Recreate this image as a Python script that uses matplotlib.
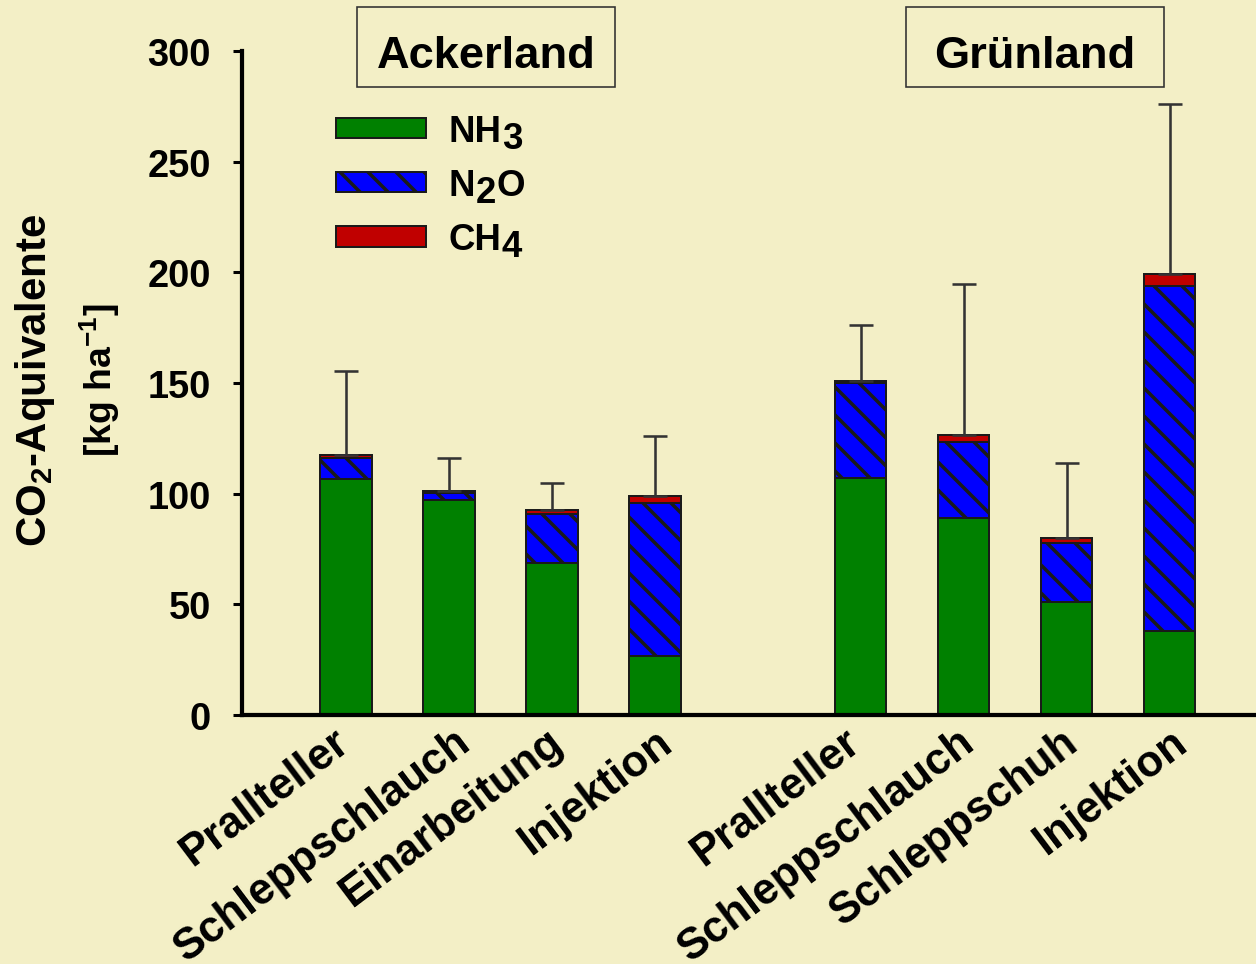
import numpy as np
import matplotlib
matplotlib.use("Agg")
import matplotlib.pyplot as plt
from matplotlib.patches import Patch, Rectangle
from matplotlib.transforms import ScaledTranslation

# values (kg CO2-eq per ha)
verfahren = ["Prallteller", "Schleppschlauch", "Einarbeitung", "Injektion",
             "Prallteller", "Schleppschlauch", "Schleppschuh", "Injektion"]
nh3 = [106.6, 97.2, 68.7, 26.7, 107.2, 88.9, 51.1, 38.0]
n2o = [9.5, 3.1, 22.1, 69.1, 42.8, 34.3, 26.5, 156.0]
ch4 = [1.4, 1.1, 2.0, 3.2, 0.9, 3.5, 2.5, 5.3]
err_up = [37.8, 14.7, 12.0, 26.9, 25.3, 67.9, 33.9, 76.8]
gruppen = ["Ackerland", "Grünland"]

# small horizontal nudges of the category labels, in pixels (the original is not exact)
label_shift = [-14, 5, -6, 0, -18, -6, -5, 0]

bg = "#f3efc6"
green, blue, red = "#008000", "#0000ff", "#c00000"
edge = "#1a1a1a"

plt.rcParams['font.family'] = ['Liberation Sans', 'DejaVu Sans']
plt.rcParams['font.weight'] = 'bold'
plt.rcParams['mathtext.default'] = 'regular'
plt.rcParams['hatch.linewidth'] = 1.5
plt.rcParams['hatch.color'] = edge

DPI = 168
fig = plt.figure(figsize=(1256 / DPI, 965 / DPI), dpi=DPI, facecolor=bg)
ax = fig.add_axes([242 / 1256, 249 / 965, 1 - 242 / 1256, 664 / 965])
ax.set_facecolor(bg)

pos = np.r_[0:4, 5:9]
nh3 = np.array(nh3)
n2o = np.array(n2o)
ch4 = np.array(ch4)
w = 0.5

ax.bar(pos, nh3, w, color=green, edgecolor=edge, linewidth=0.85)
ax.bar(pos, n2o, w, bottom=nh3, color=blue, edgecolor=edge, linewidth=0.85,
       hatch="\\\\")
ax.bar(pos, ch4, w, bottom=nh3 + n2o, color=red, edgecolor=edge, linewidth=0.85)
tot = nh3 + n2o + ch4
ax.errorbar(pos, tot, yerr=[np.zeros(len(pos)), err_up], fmt="none",
            ecolor="#333333", elinewidth=1.1, capsize=5, capthick=1.1, zorder=3)

ax.set_xlim(-1.01, 8.84)
ax.set_ylim(0, 300)
ax.set_yticks(np.arange(0, 301, 50))
ax.set_xticks(pos)
ax.tick_params(axis="x", length=0, pad=2.5)
ax.tick_params(axis="y", length=3.9, width=1.3, pad=9.5, labelsize=16.3)
ax.set_xticklabels(verfahren, rotation=37, ha="right", va="top",
                   rotation_mode="anchor", fontsize=18.7)
for lab, dx in zip(ax.get_xticklabels(), label_shift):
    lab.set_transform(lab.get_transform() + ScaledTranslation(dx / DPI, 0, fig.dpi_scale_trans))
for s in ["top", "right"]:
    ax.spines[s].set_visible(False)
for s in ["left", "bottom"]:
    ax.spines[s].set_linewidth(1.8)

# legend; the subscripts in the original are full size, just set lower
fs_leg = 15.7
hnd = [Patch(facecolor=green, edgecolor=edge, linewidth=0.85),
       Patch(facecolor=blue, edgecolor=edge, linewidth=0.85, hatch="\\\\"),
       Patch(facecolor=red, edgecolor=edge, linewidth=0.85)]
leg = ax.legend(hnd, ["NH", "N", "CH"], loc="upper left",
                bbox_to_anchor=(336 / 1256, 1 - 115 / 965), bbox_transform=fig.transFigure,
                frameon=False, fontsize=fs_leg, handlelength=2.46, handleheight=0.5,
                handletextpad=0.6, labelspacing=0.52, borderpad=0, borderaxespad=0)
leg.set_zorder(5)
t_nh, t_n, t_ch = leg.get_texts()
sub = dict(textcoords="offset points", ha="left", va="bottom", fontsize=fs_leg,
           annotation_clip=False, zorder=6)
ax.annotate("3", xy=(1, 0), xycoords=t_nh, xytext=(0.3, -3), **sub)
sub2 = ax.annotate("2", xy=(1, 0), xycoords=t_n, xytext=(0.3, -3), **sub)
ax.annotate("O", xy=(1, 0), xycoords=sub2, xytext=(0.3, 3), **sub)
ax.annotate("4", xy=(1, 0), xycoords=t_ch, xytext=(0.3, -3), **sub)

# group boxes
for x0, xc, name in [(357, 486, gruppen[0]), (906, 1035, gruppen[1])]:
    fig.patches.append(Rectangle((x0 / 1256, 1 - 88 / 965), 258 / 1256, 80 / 965,
                                 transform=fig.transFigure, facecolor="none",
                                 edgecolor="#333333", linewidth=0.7))
    fig.text(xc / 1256, 1 - 68 / 965, name, ha="center", va="baseline", fontsize=19.4)

# y label, two lines
fig.text(35 / 1256, 1 - 380 / 965, "CO$_2$-Aquivalente", rotation=90,
         ha="center", va="center", fontsize=18)
fig.text(100 / 1256, 1 - 380 / 965, "[kg ha$^{-1}$]", rotation=90,
         ha="center", va="center", fontsize=16)

fig.savefig("out.png", dpi=DPI, facecolor=bg)
